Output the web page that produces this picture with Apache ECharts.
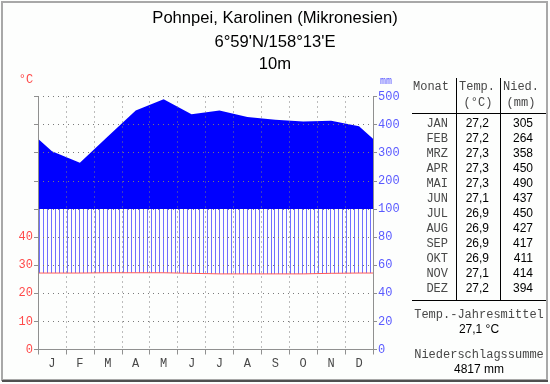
<!DOCTYPE html>
<html><head><meta charset="utf-8">
<script src="https://cdn.jsdelivr.net/npm/echarts@6/dist/echarts.min.js"></script>
<style>html,body{margin:0;padding:0;background:#fff}#c{width:550px;height:384px}</style>
</head><body><div id="c"></div>
<script>
// ---- data ----
const monthLetters = ['J','F','M','A','M','J','J','A','S','O','N','D'];
const monthAbbr = ['JAN','FEB','MRZ','APR','MAI','JUN','JUL','AUG','SEP','OKT','NOV','DEZ'];
const temps = [27.2,27.2,27.3,27.3,27.3,27.1,26.9,26.9,26.9,26.9,27.1,27.2];
const precip = [305,264,358,450,490,437,450,427,417,411,414,394];
const tempTickLabels = [0,10,20,30,40];
const precipTickLabels = [0,20,40,60,80,100,200,300,400,500];
const titleLines = ['Pohnpei, Karolinen (Mikronesien)','6°59\'N/158°13\'E','10m'];
const annualMeanText = '27,1 °C';
const annualSumText = '4817 mm';

// ---- scale conversion (1 unit = 10 °C = 20 mm below 100 mm, 100 mm above) ----
const tU = t => t / 10;
const pU = p => p <= 100 ? p / 20 : 5 + (p - 100) / 100;

function withWrap(vals) {
  const edge = (vals[0] + vals[vals.length - 1]) / 2;
  const pts = [[0, edge]];
  vals.forEach((v, i) => pts.push([i + 0.5, v]));
  pts.push([12, edge]);
  return pts;
}
const tPts = withWrap(temps.map(tU));
const pPts = withWrap(precip.map(pU));
const wetBase = pPts.map(p => [p[0], 5]);

function interp(pts, x) {
  for (let i = 0; i < pts.length - 1; i++) {
    const a = pts[i], b = pts[i + 1];
    if (x >= a[0] && x <= b[0]) return a[1] + (b[1] - a[1]) * (x - a[0]) / (b[0] - a[0]);
  }
  return pts[pts.length - 1][1];
}

const mono = 'Liberation Mono';
const sans = 'Liberation Sans';
const RED = '#ff4a4a', BLUE = '#5a5aff', GRAYTXT = '#484848';

const gLeft = 38, gRight = 373, gTop = 96.5, gBottom = 349.5;

const graphics = [];
graphics.push({type:'rect', shape:{x:2,y:2,width:545,height:378}, style:{fill:null, stroke:'#a8a8a8', lineWidth:2}, silent:true});
graphics.push({type:'line', shape:{x1:2,y1:381,x2:548,y2:381}, style:{stroke:'#505050', lineWidth:2}, silent:true});
titleLines.forEach((t, i) => graphics.push({type:'text', x:275, y:[18,42,64][i], style:{text:t, font:'16.6px "'+sans+'"', fill:'#000', align:'center', verticalAlign:'middle'}}));
graphics.push({type:'text', x:26, y:80, style:{text:'°C', font:'12px "'+mono+'"', fill:RED, align:'center', verticalAlign:'middle'}});
graphics.push({type:'text', x:386, y:81, style:{text:'mm', font:'10px "'+mono+'"', fill:BLUE, align:'center', verticalAlign:'middle'}});
const lineC = '#000';
graphics.push({type:'line', shape:{x1:456.5,y1:78,x2:456.5,y2:300}, style:{stroke:lineC, lineWidth:1}});
graphics.push({type:'line', shape:{x1:500.5,y1:78,x2:500.5,y2:300}, style:{stroke:lineC, lineWidth:1}});
graphics.push({type:'line', shape:{x1:412,y1:113.5,x2:546,y2:113.5}, style:{stroke:lineC, lineWidth:1}});
graphics.push({type:'line', shape:{x1:412,y1:300.5,x2:546,y2:300.5}, style:{stroke:lineC, lineWidth:1}});
const monoF = '12px "'+mono+'"', sansF = '12px "'+sans+'"';
graphics.push({type:'text', x:431, y:87, style:{text:'Monat', font:monoF, fill:GRAYTXT, align:'center', verticalAlign:'middle'}});
graphics.push({type:'text', x:477, y:87, style:{text:'Temp.', font:monoF, fill:GRAYTXT, align:'center', verticalAlign:'middle'}});
graphics.push({type:'text', x:478, y:103, style:{text:'(°C)', font:monoF, fill:GRAYTXT, align:'center', verticalAlign:'middle'}});
graphics.push({type:'text', x:521, y:87, style:{text:'Nied.', font:monoF, fill:GRAYTXT, align:'center', verticalAlign:'middle'}});
graphics.push({type:'text', x:521, y:103, style:{text:'(mm)', font:monoF, fill:GRAYTXT, align:'center', verticalAlign:'middle'}});
monthAbbr.forEach((m, i) => {
  const y = 124 + i * 15.0;
  graphics.push({type:'text', x:448, y:y, style:{text:m, font:monoF, fill:GRAYTXT, align:'right', verticalAlign:'middle'}});
  graphics.push({type:'text', x:489, y:y, style:{text:temps[i].toFixed(1).replace('.', ','), font:sansF, fill:'#000', align:'right', verticalAlign:'middle'}});
  graphics.push({type:'text', x:533, y:y, style:{text:String(precip[i]), font:sansF, fill:'#000', align:'right', verticalAlign:'middle'}});
});
graphics.push({type:'text', x:479, y:315, style:{text:'Temp.-Jahresmittel', font:monoF, fill:GRAYTXT, align:'center', verticalAlign:'middle'}});
graphics.push({type:'text', x:479, y:330, style:{text:annualMeanText, font:sansF, fill:'#000', align:'center', verticalAlign:'middle'}});
graphics.push({type:'text', x:479, y:355, style:{text:'Niederschlagssumme', font:monoF, fill:GRAYTXT, align:'center', verticalAlign:'middle'}});
graphics.push({type:'text', x:479, y:370, style:{text:annualSumText, font:sansF, fill:'#000', align:'center', verticalAlign:'middle'}});

const dotted = {color:'#7a7a7a', width:1, type:[1,4]};
const axisLineStyle = {color:'#909090', width:1};

function band(name, upper, lower, fill, z) {
  return {name, type:'custom', xAxisIndex:1, yAxisIndex:0, data:[[0, 0]], z, silent:true, clip:true,
    renderItem: (params, api) => {
      const pts = upper.map(p => api.coord(p)).concat(lower.slice().reverse().map(p => api.coord(p)));
      return {type:'polygon', shape:{points:pts}, style:{fill: fill}};
    }};
}

// humid-period hatching: vertical lines between temperature curve and min(precip, 100 mm)
const stripesPerMonth = 7;
const stripeSeries = {name:'humid', type:'custom', xAxisIndex:1, yAxisIndex:0, data:[[0, 0]], z:2, silent:true, clip:true,
  renderItem: (params, api) => {
    const children = [];
    const n = 12 * stripesPerMonth;
    for (let k = 0; k < n; k++) {
      const x = (k + 0.3) / stripesPerMonth;
      const lo = interp(tPts, x), hi = Math.min(interp(pPts, x), 5);
      if (hi <= lo) continue;
      const a = api.coord([x, lo]), b = api.coord([x, hi]);
      const px = Math.round(a[0]);
      children.push({type:'rect', shape:{x:px, y:b[1], width:1, height:a[1] - b[1]}, style:{fill:'#7070ff'}});
    }
    return {type:'group', children};
  }};

const option = {
  animation: false,
  backgroundColor: '#fdfefd',
  grid: {left: gLeft, right: 550 - gRight, top: gTop, bottom: 384 - gBottom, containLabel: false},
  xAxis: [
    {type:'category', data: monthLetters, boundaryGap: true, position:'bottom', z: 10,
     axisLine:{show:true, lineStyle:axisLineStyle, onZero:false},
     axisTick:{show:true, length:5, lineStyle:axisLineStyle, alignWithLabel:false},
     axisLabel:{color:GRAYTXT, fontFamily:mono, fontSize:12, margin:8},
     splitLine:{show:true, lineStyle:dotted}},
    {type:'value', min:0, max:12, show:false}
  ],
  yAxis: [
    {type:'value', min:0, max:9, interval:1, position:'left', z: 10,
     axisLine:{show:true, lineStyle:axisLineStyle, onZero:false},
     axisTick:{show:true, length:4, lineStyle:axisLineStyle},
     axisLabel:{color:RED, fontFamily:mono, fontSize:12, margin:5,
       formatter: v => (v < tempTickLabels.length ? String(tempTickLabels[v]) : '')},
     splitLine:{show:true, lineStyle:dotted}},
    {type:'value', min:0, max:9, interval:1, position:'right', z: 10,
     axisLine:{show:true, lineStyle:axisLineStyle, onZero:false},
     axisTick:{show:true, length:4, lineStyle:axisLineStyle},
     axisLabel:{color:BLUE, fontFamily:mono, fontSize:12, margin:5,
       formatter: v => String(precipTickLabels[v])},
     splitLine:{show:false}}
  ],
  series: [
    stripeSeries,
    band('wet', pPts, wetBase, '#0000ff', 3),
    {name:'temp', type:'line', xAxisIndex:1, yAxisIndex:0, data:tPts, symbol:'none',
     lineStyle:{color:'#ff5a5a', width:1}, z:4}
  ],
  graphic: graphics
};
echarts.init(document.getElementById('c'), null, {renderer:'canvas'}).setOption(option);
</script></body></html>
